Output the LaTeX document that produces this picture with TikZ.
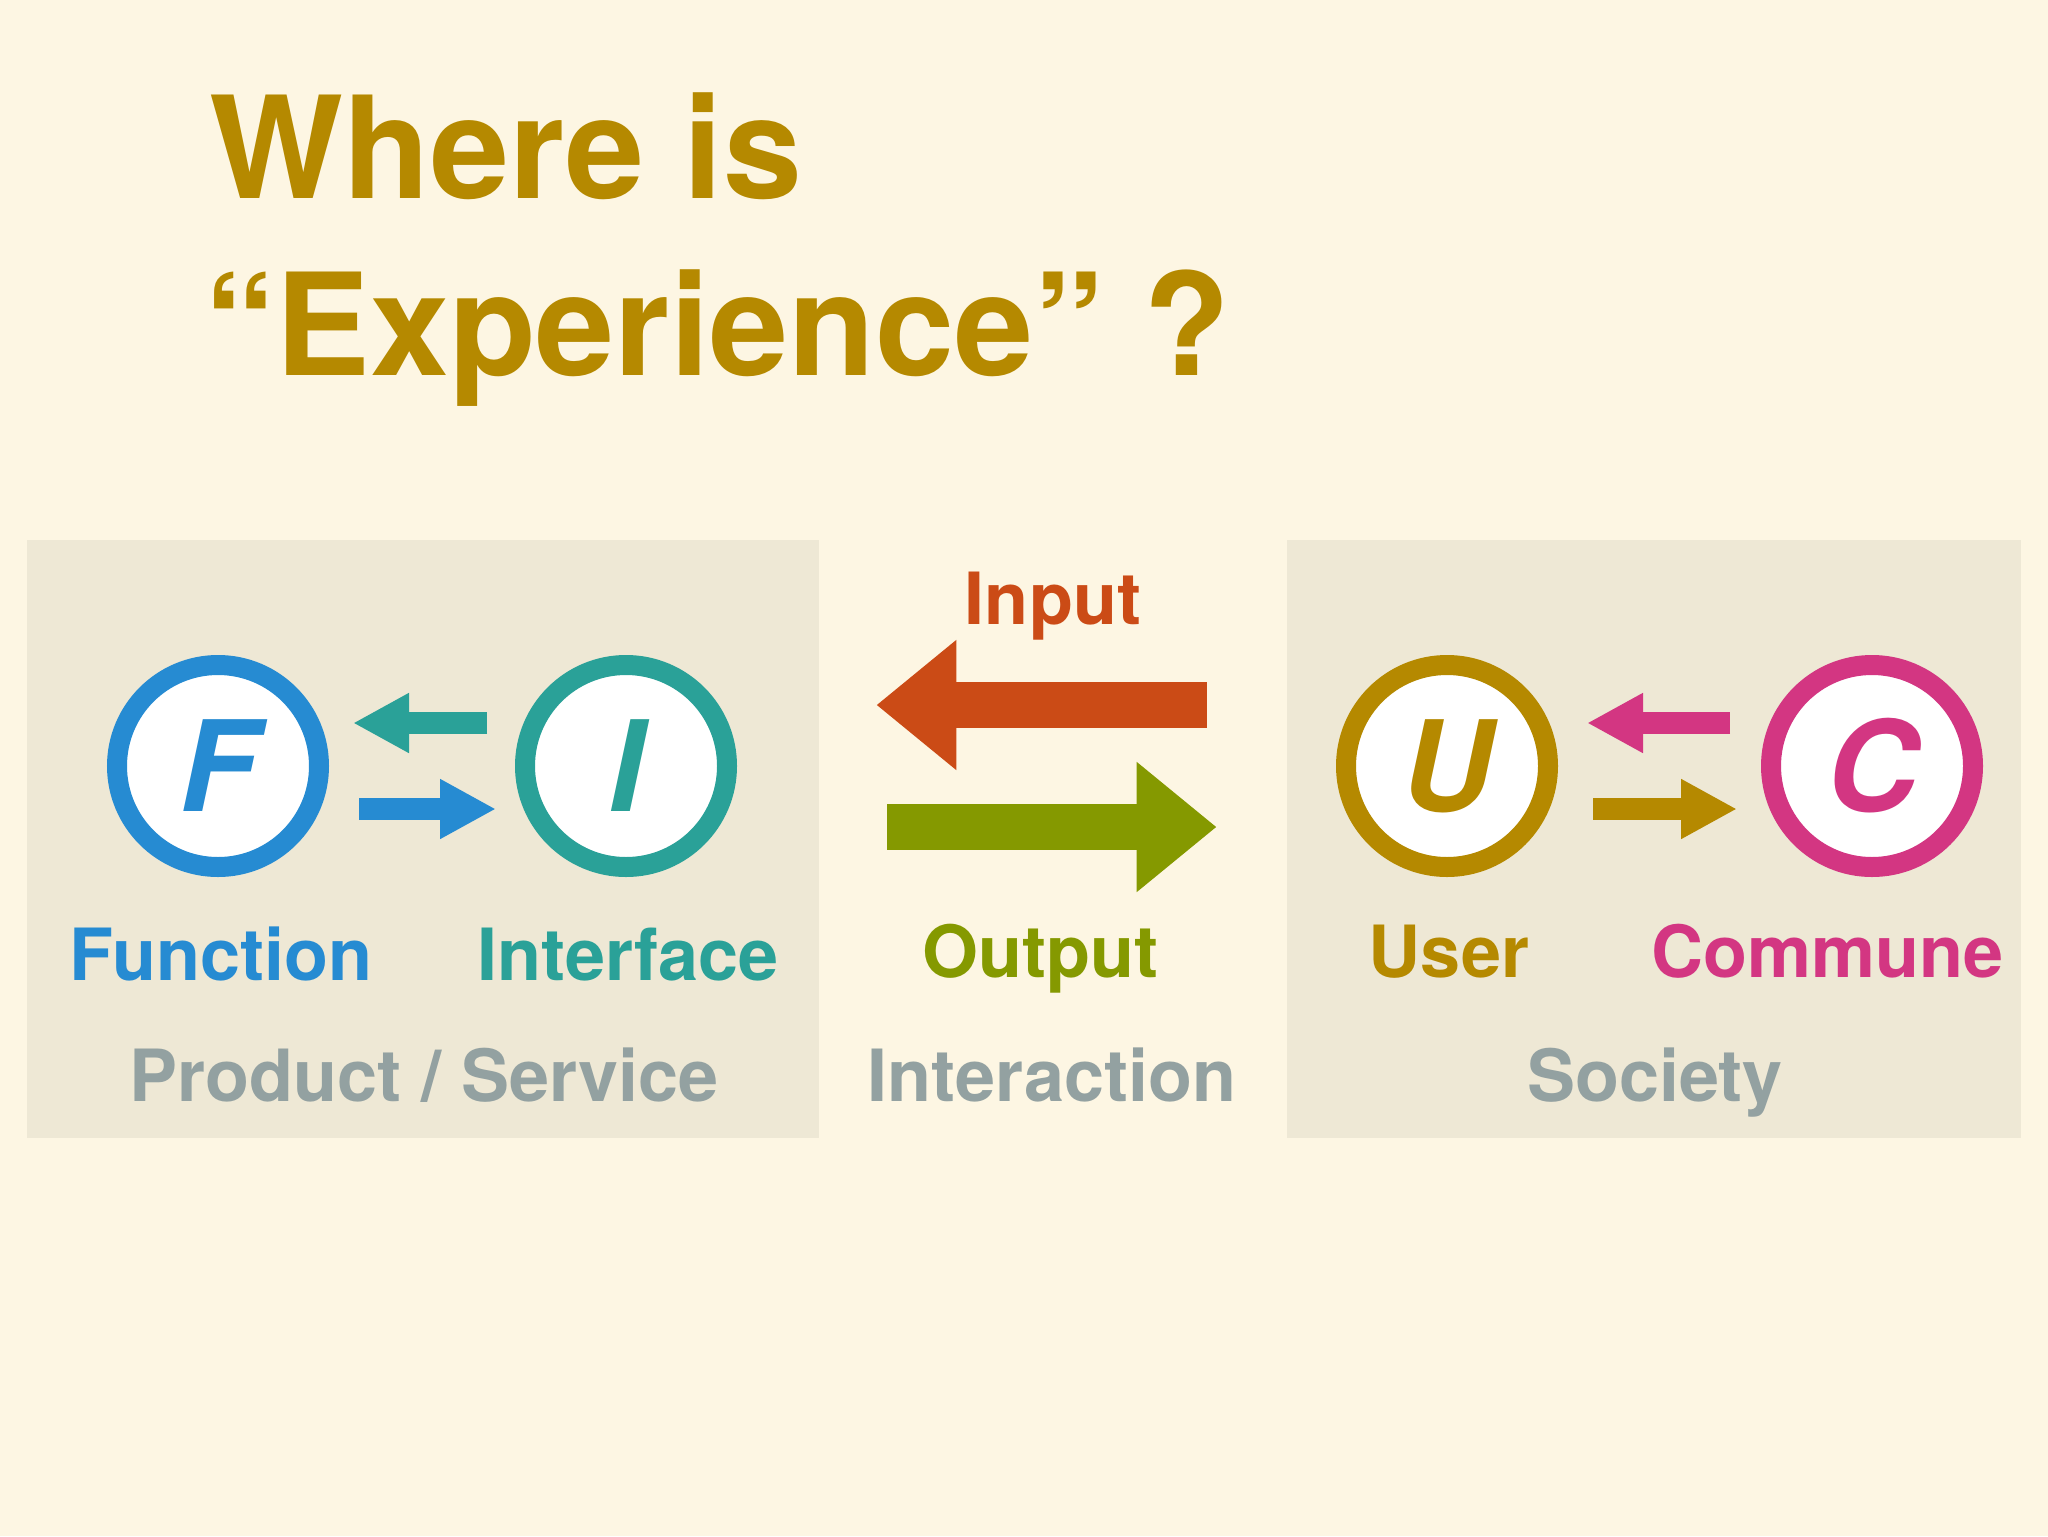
\documentclass[tikz,border=0pt]{standalone}
\usepackage{fontspec}
\setmainfont{TeX Gyre Heros}
\usetikzlibrary{arrows.meta, positioning, calc}

\definecolor{solbase3}{HTML}{FDF6E3}
\definecolor{solbase2}{HTML}{EEE8D5}
\definecolor{solbase1}{HTML}{93A1A1}
\definecolor{solyellow}{HTML}{B58900}
\definecolor{solorange}{HTML}{CB4B16}
\definecolor{solmagenta}{HTML}{D33682}
\definecolor{solblue}{HTML}{268BD2}
\definecolor{solcyan}{HTML}{2AA198}
\definecolor{solgreen}{HTML}{859900}

\tikzset{
	panel/.style = {fill=solbase2, inner sep=0pt},
	headline/.style = {anchor=base west, inner sep=0pt, text=solyellow, font=\fontsize{71}{71}\selectfont\bfseries},
	letter/.style = {circle, draw=#1, line width=10pt, fill=white, minimum size=101pt, inner sep=0pt, text=#1, font=\fontsize{63}{63}\selectfont\bfseries\itshape},
	tag/.style = {anchor=base, inner sep=0pt, text=#1, font=\fontsize{36}{36}\selectfont\bfseries},
	smallarrow/.style = {draw=#1, line width=11pt, -{Triangle[length=28pt, width=28pt]}},
	bigarrow/.style = {draw=#1, line width=23pt, -{Triangle[length=40pt, width=62.5pt]}}
}

\begin{document}
\begin{tikzpicture}[x=0.5pt, y=-0.5pt]
	\fill[solbase3] (0,0) rectangle (2048,1536);
	\useasboundingbox (0,0) rectangle (2048,1536);
	
	\node[panel, minimum width=396pt, minimum height=299pt] (product) at (423,839) {};
	\node[panel, minimum width=367pt, minimum height=299pt] (society) at (1654,839) {};
	
	\node[headline] (where) at (209,198) {Where is};
	\node[headline] (experience) at (204,375) {“Experience” ?};
	
	\node[letter=solblue] (F) at (218,766) {F};
	\node[letter=solcyan] (I) at (626,766) {I};
	\node[letter=solyellow] (U) at (1447,766) {U};
	\node[letter=solmagenta] (C) at (1872,766) {C};
	
	\draw[smallarrow=solcyan, shorten <=14pt, shorten >=12pt] ([yshift=21.5pt]I.west) -- ([yshift=21.5pt]F.east);
	\draw[smallarrow=solblue, shorten <=15pt, shorten >=9.5pt] ([yshift=-21.5pt]F.east) -- ([yshift=-21.5pt]I.west);
	\draw[smallarrow=solmagenta, shorten <=15.5pt, shorten >=14.5pt] ([yshift=21.5pt]C.west) -- ([yshift=21.5pt]U.east);
	\draw[smallarrow=solyellow, shorten <=17.5pt, shorten >=12pt] ([yshift=-21.5pt]U.east) -- ([yshift=-21.5pt]C.west);
	
	\coordinate (inrow) at (0,705);
	\coordinate (outrow) at (0,827);
	\draw[bigarrow=solorange, shorten <=40pt, shorten >=28.5pt] (society.west |- inrow) -- (product.east |- inrow);
	\draw[bigarrow=solgreen, shorten <=34pt, shorten >=35pt] (product.east |- outrow) -- (society.west |- outrow);
	
	\node[tag=solblue] (function) at (221,980) {Function};
	\node[tag=solcyan] (interface) at (628,980) {Interface};
	\node[tag=solorange] (input) at (1053,624) {Input};
	\node[tag=solgreen] (output) at (1040,977) {Output};
	\node[tag=solyellow] (user) at (1449,977) {User};
	\node[tag=solmagenta] (commune) at (1827,977) {Commune};
	
	\node[tag=solbase1] (productname) at (424,1101) {Product / Service};
	\node[tag=solbase1] (interaction) at (1052,1101) {Interaction};
	\node[tag=solbase1] (societyname) at (1655,1101) {Society};
\end{tikzpicture}
\end{document}
